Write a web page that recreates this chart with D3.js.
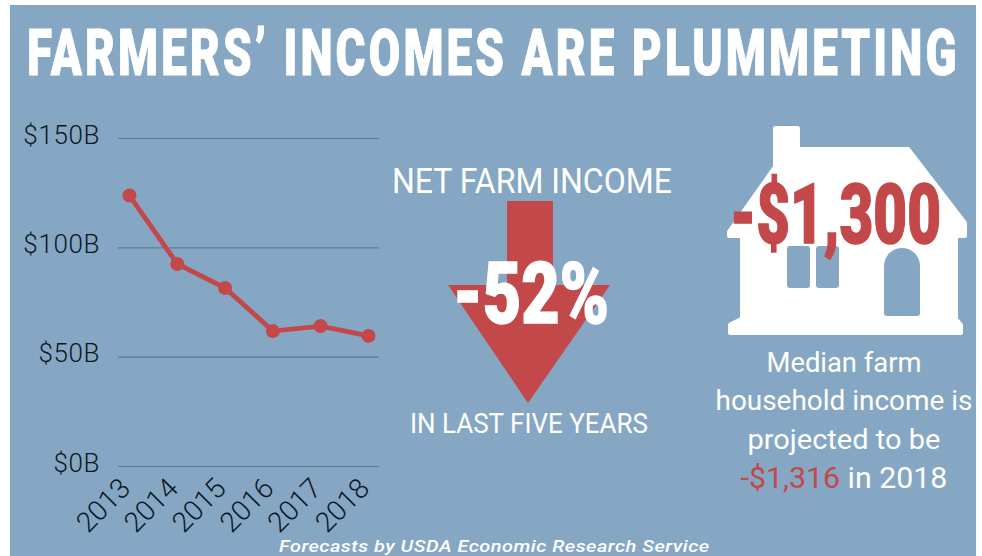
<!DOCTYPE html>
<html>
<head>
<meta charset="utf-8">
<script src="https://cdnjs.cloudflare.com/ajax/libs/d3/7.8.5/d3.min.js"></script>
<style>
  html, body { margin: 0; padding: 0; background: #fff; }
  svg { display: block; }
  text { font-family: Roboto, sans-serif; }
</style>
</head>
<body>
<svg id="chart" width="982" height="556"></svg>
<script>
// Net farm income, billions of dollars
const years = ["2013", "2014", "2015", "2016", "2017", "2018"];
const netIncome = [123.7, 92.4, 81.4, 61.7, 64, 59.5];
const incomeTicks = [0, 50, 100, 150];

const titleText = "FARMERS\u2019 INCOMES ARE PLUMMETING";
const sourceText = "Forecasts by USDA Economic Research Service";
const medianLines = ["Median farm", "household income is", "projected to be"];

const BLUE = "#85a7c4";
const RED = "#c2484a";
const INK = "#0e1822";

const svg = d3.select("#chart");

svg.append("rect").attr("x", 10).attr("y", 5).attr("width", 966).attr("height", 551).attr("fill", BLUE);

// Squeezes or widens a label horizontally so it occupies an exact width,
// which keeps the condensed headline look with the installed faces.
function fitted(x, y, str, opts) {
  const t = svg.append("text")
    .attr("font-size", opts.size).attr("font-weight", opts.weight || 400)
    .attr("fill", opts.fill || "#fff")
    .style("letter-spacing", (opts.spacing || 0) + "px")
    .text(str);
  if (opts.stroke) t.attr("stroke", opts.fill || "#fff").attr("stroke-width", opts.stroke);
  if (opts.italic) t.attr("font-style", "italic");
  const natural = t.node().getComputedTextLength();
  const left = opts.center ? x - opts.width / 2 : x;
  t.attr("transform", `translate(${left},${y}) scale(${opts.width / natural},1)`);
  return t;
}

fitted(27, 74.5, titleText, { size: 65, weight: 900, spacing: 4.5, stroke: 1, width: 933 });

// ---- Line chart ----
const x = d3.scalePoint().domain(years).range([129.5, 368.5]);
const y = d3.scaleLinear().domain([0, 150]).range([466, 138]);

const yAxis = svg.append("g")
  .attr("transform", "translate(118,0)")
  .call(d3.axisLeft(y).tickValues(incomeTicks).tickSize(-261).tickPadding(18)
    .tickFormat(d => `$${d}B`));
yAxis.select(".domain").remove();
yAxis.selectAll("line").attr("stroke", "#5b7c99").attr("stroke-width", 1.2);
yAxis.selectAll("text")
  .attr("dy", "0.2em")
  .attr("font-family", "Roboto, sans-serif")
  .attr("font-size", 26).attr("font-weight", 300).attr("fill", INK)
  .style("letter-spacing", "0.6px");

const xAxis = svg.append("g")
  .attr("transform", "translate(0,466)")
  .call(d3.axisBottom(x).tickSize(0).tickPadding(0));
xAxis.select(".domain").remove();
xAxis.selectAll("text")
  .attr("text-anchor", "end")
  .attr("font-family", "Roboto, sans-serif")
  .attr("font-size", 28).attr("font-weight", 300).attr("fill", INK)
  .attr("dy", 0)
  .attr("transform", "translate(2,24) rotate(-45)");

const line = d3.line().x((d, i) => x(years[i])).y(d => y(d));
svg.append("path").datum(netIncome)
  .attr("d", line).attr("fill", "none").attr("stroke", RED).attr("stroke-width", 4.8);
svg.selectAll("circle.pt").data(netIncome).join("circle")
  .attr("class", "pt")
  .attr("cx", (d, i) => x(years[i])).attr("cy", d => y(d)).attr("r", 7).attr("fill", RED);

// ---- Arrow callout ----
fitted(532, 193, "NET FARM INCOME", { size: 35, width: 280, center: true });
svg.append("path")
  .attr("d", "M507,201H553V285H610L528,403L448,285H507Z")
  .attr("fill", RED);
fitted(453, 323, "-52%", { size: 85, weight: 900, stroke: 1.5, width: 156 });
fitted(529, 433, "IN LAST FIVE YEARS", { size: 28, width: 238, center: true });

// ---- House callout ----
svg.append("path")
  .attr("fill", "#fff")
  .attr("stroke", "#fff").attr("stroke-width", 5).attr("stroke-linejoin", "round")
  .attr("d", "M775.5,128.5H797.5V149.5H908L964.5,223V235.5H955.5V319L960.5,325V332.5H730.5V325L742.5,319V235.5H729.5V232L775.5,167Z");
[[787, 23], [816, 23]].forEach(([wx, w]) => {
  svg.append("rect").attr("x", wx).attr("y", 246).attr("width", w).attr("height", 42).attr("rx", 3).attr("fill", BLUE);
});
svg.append("path")
  .attr("d", "M884,266A18,18 0 0 1 920,266V313Q920,316 917,316H887Q884,316 884,313Z")
  .attr("fill", BLUE);
fitted(730, 243, "-$1,300", { size: 84, weight: 900, fill: RED, stroke: 1.5, width: 211 });

const medianY = [372, 410, 449];
const medianWidths = [155, 257, 193];
medianLines.forEach((s, i) => {
  fitted(844, medianY[i], s, { size: 28, width: medianWidths[i], center: true });
});
const last = fitted(844, 488, "-$1,316 in 2018", { size: 29, width: 207, center: true });
last.text(null);
last.append("tspan").attr("fill", RED).text("-$1,316");
last.append("tspan").text(" in 2018");

fitted(279, 551.5, sourceText, { size: 17, weight: 500, italic: true, spacing: 0.4, width: 431 });
</script>
</body>
</html>
